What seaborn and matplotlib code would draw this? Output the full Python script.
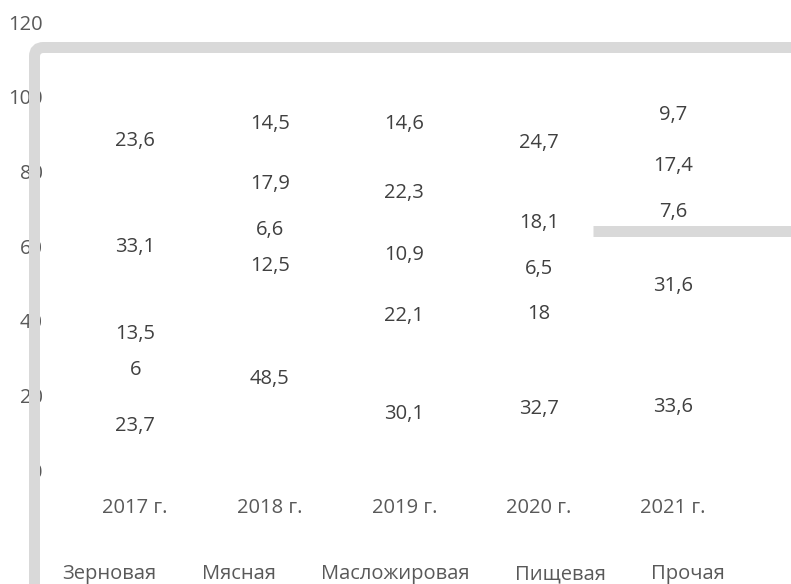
import matplotlib
matplotlib.use("Agg")
import matplotlib.pyplot as plt
import matplotlib.patches as mpatches
from matplotlib.transforms import IdentityTransform
import seaborn as sns
import pandas as pd

years = ["2017 г.", "2018 г.", "2019 г.", "2020 г.", "2021 г."]
series = ["Зерновая", "Мясная", "Масложировая", "Пищевая", "Прочая"]
zernovaya = [23.7, 48.5, 30.1, 32.7, 33.6]
myasnaya = [6.0, 12.5, 22.1, 18.0, 31.6]
maslozhir = [13.5, 6.6, 10.9, 6.5, 7.6]
pishchevaya = [33.1, 17.9, 22.3, 18.1, 17.4]
prochaya = [23.6, 14.5, 14.6, 24.7, 9.7]
yticks = [0, 20, 40, 60, 80, 100, 120]

values = [zernovaya, myasnaya, maslozhir, pishchevaya, prochaya]

sns.set_theme(style="white")
plt.rcParams["font.family"] = ["Open Sans", "DejaVu Sans"]

W, H = 791, 584
fig = plt.figure(figsize=(W / 100, H / 100), dpi=100)
ax = fig.add_axes([68 / W, (H - 470) / H, 672.5 / W, 448 / H])

text_color = "#404040"
tick_color = "#595959"
fs = 14.5

# stacked bars with white fill; only their value labels stand out
bottom = [0.0] * len(years)
for name, vals in zip(series, values):
    df = pd.DataFrame({"year": years, "value": vals})
    sns.barplot(data=df, x="year", y="value", bottom=bottom, color="white",
                edgecolor="none", width=0.55, ax=ax, label=name)
    cont = ax.containers[-1]
    ax.bar_label(cont, labels=[f"{v:g}".replace(".", ",") for v in vals],
                 label_type="center", fontsize=fs, color=text_color)
    bottom = [b + v for b, v in zip(bottom, vals)]

ax.set_ylim(0, 120)
ax.set_xlim(-0.5, 4.5)
ax.set_yticks(yticks)
ax.set_xlabel("")
ax.set_ylabel("")
for s in ax.spines.values():
    s.set_visible(False)
ax.tick_params(axis="y", length=0, pad=18, labelsize=fs, labelcolor=tick_color)
ax.tick_params(axis="x", length=0, pad=20, labelsize=fs, labelcolor=tick_color)
if ax.get_legend():
    ax.get_legend().remove()

handles = [mpatches.Patch(facecolor="white", edgecolor="none", alpha=0)
           for _ in series]
leg = fig.legend(handles, series, loc="center left",
                 bbox_to_anchor=(38 / W, (H - 574) / H), ncol=5, frameon=False,
                 fontsize=fs, handlelength=0.8, handletextpad=0.4,
                 columnspacing=1.05, borderpad=0, borderaxespad=0)
for t in leg.get_texts():
    t.set_color(tick_color)

# rounded grey frame running off the right and bottom edges
frame = mpatches.FancyBboxPatch((34.5, -200), 1200, H - 47.5 + 200,
                                boxstyle="round,pad=0,rounding_size=9",
                                transform=IdentityTransform(), facecolor="none",
                                edgecolor="#d9d9d9", linewidth=11 * 0.72,
                                zorder=10)
fig.patches.append(frame)
fig.add_artist(plt.Line2D([593, W + 10], [H - 231, H - 231],
                          transform=IdentityTransform(), color="#d9d9d9",
                          linewidth=11 * 0.72, solid_capstyle="butt", zorder=10))

fig.savefig("out.png", dpi=100)
